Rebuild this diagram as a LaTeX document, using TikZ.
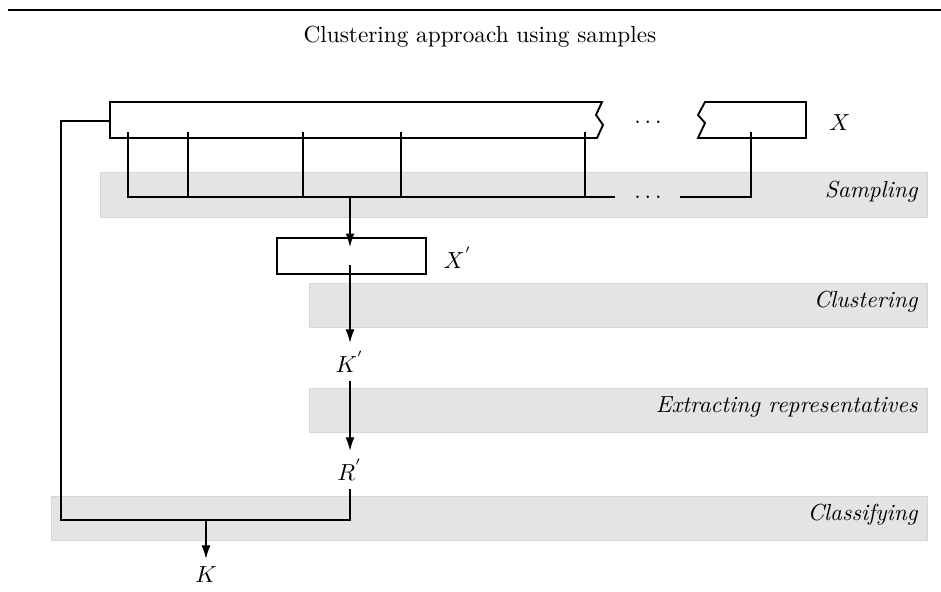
\documentclass[tikz,border=0pt]{standalone}
\usepackage{tikz}
\usetikzlibrary{arrows.meta,calc}
\definecolor{bandgray}{RGB}{228,228,228}
\definecolor{bandedge}{RGB}{214,214,214}

\begin{document}
\begin{tikzpicture}[
  x=0.43pt, y=-0.43pt,
  every node/.style={font=\normalsize},
  databox/.style={draw, line width=0.8pt},
  band/.style={fill=bandgray, draw=bandedge, line width=0.4pt},
  bandlabel/.style={anchor=base east, font=\itshape, inner sep=0pt},
  link/.style={draw, line width=0.5pt},
  flow/.style={link, -{Latex[length=5.8pt,width=3.8pt]}}
]
  \useasboundingbox (0,0) rectangle (941,592);

  % header
  \draw[line width=0.8pt] (8,10) -- (941,10);
  \node (title) at (480,37) {Clustering approach using samples};

  % bands
  \draw[band] (100,172) rectangle (927,217);
  \node[bandlabel] (sampling) at (918,198) {Sampling};
  \draw[band] (309,283) rectangle (927,327);
  \node[bandlabel] (clustering) at (918,308) {Clustering};
  \draw[band] (309,388) rectangle (927,432);
  \node[bandlabel] (extracting) at (918,413) {Extracting representatives};
  \draw[band] (51,496) rectangle (927,540);
  \node[bandlabel] (classifying) at (918,521) {Classifying};

  % data set X
  \draw[databox] (110,102) -- (602,102) -- (596,115) -- (603,125) -- (597,138) -- (110,138) -- cycle;
  \draw[databox] (705,102) -- (698,115) -- (705,123) -- (698,138) -- (806,138) -- (806,102) -- cycle;
  \node (dotsx) at (648,122) {$\ldots$};
  \node (x) at (840,123) {$X$};

  % sampling
  \coordinate (busL) at (128,197);
  \coordinate (busM) at (350,197);
  \coordinate (busE) at (615,197);
  \coordinate (busS) at (680,197);
  \coordinate (busR) at (751,197);
  \draw[link] (128,132) -- (busL) -- (busE);
  \draw[link] (188,132) -- (188,197);
  \draw[link] (303,132) -- (303,197);
  \draw[link] (401,132) -- (401,197);
  \draw[link] (585,132) -- (585,197);
  \draw[link] (751,132) -- (busR) -- (busS);
  \node (dotsb) at (648,197) {$\ldots$};

  % sample, clusters, representatives
  \node[databox, minimum width=64pt, minimum height=15.5pt, inner sep=0pt] (xs) at (351.5,256) {};
  \node (xslabel) at (458,258) {$X^{'}$};
  \node (ks) at (350,362) {$K^{'}$};
  \node (rs) at (350,470) {$R^{'}$};
  \node (k) at (206,575) {$K$};

  \draw[flow] (busM) -- ($(busM |- xs.center)+(0,-9)$);
  \draw[flow] ($(busM |- xs.center)+(0,9)$) -- (ks.north);
  \draw[flow] (ks.south) -- (rs.north);

  % classifying
  \coordinate (xleft) at (110,121);
  \coordinate (loopTop) at (61,121);
  \coordinate (loopBot) at (61,520);
  \coordinate (kfork) at (206,520);
  \draw[link] (rs.south) |- (loopBot) -- (loopTop) -- (xleft);
  \draw[flow] (kfork) -- (k.north);
\end{tikzpicture}
\end{document}
